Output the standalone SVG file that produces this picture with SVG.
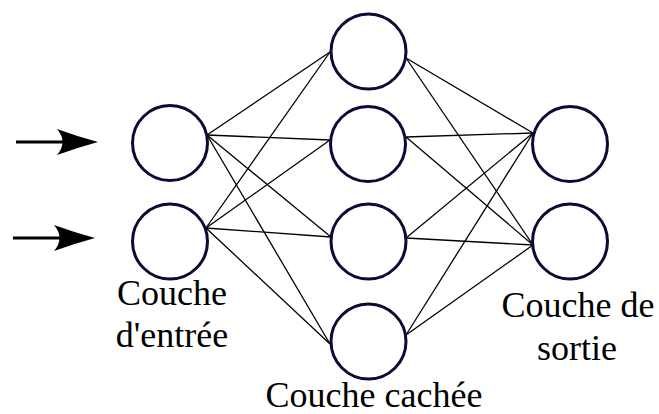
<svg xmlns="http://www.w3.org/2000/svg" xmlns:xlink="http://www.w3.org/1999/xlink" width="659" height="414" viewBox="0 0 659 414">
<style>
.node{fill:#fff;stroke:#0b0b35;stroke-width:3}
.edge{stroke:#000;stroke-width:1.3;fill:none}
.arrow{stroke:#000;stroke-width:3;fill:none}
.label{font-family:'Liberation Serif','DejaVu Serif',serif;font-size:36px;fill:#000;text-anchor:middle}
</style>
<defs>
<path id="head" d="M0,0 Q-22,-6 -41,-13 Q-30,0 -41,13 Q-22,6 0,0 Z" fill="#000"/>
</defs>
<rect width="659" height="414" fill="#fff"/>
<g id="connectors">
<line class="arrow" x1="16" y1="142" x2="80" y2="142"/>
<use xlink:href="#head" transform="translate(98,142)"/>
<line class="arrow" x1="13" y1="238" x2="78" y2="238"/>
<use xlink:href="#head" transform="translate(95,238)"/>
<line class="edge" x1="207" y1="135" x2="330" y2="52"/>
<line class="edge" x1="207" y1="135" x2="330" y2="140"/>
<line class="edge" x1="207" y1="135" x2="331" y2="237"/>
<line class="edge" x1="207" y1="135" x2="330" y2="344"/>
<line class="edge" x1="206" y1="228" x2="330" y2="52"/>
<line class="edge" x1="206" y1="228" x2="330" y2="140"/>
<line class="edge" x1="206" y1="228" x2="331" y2="237"/>
<line class="edge" x1="206" y1="228" x2="330" y2="344"/>
<line class="edge" x1="406" y1="58" x2="533" y2="133"/>
<line class="edge" x1="406" y1="137" x2="533" y2="133"/>
<line class="edge" x1="406" y1="238" x2="533" y2="133"/>
<line class="edge" x1="406" y1="335" x2="533" y2="133"/>
<line class="edge" x1="406" y1="58" x2="533" y2="245"/>
<line class="edge" x1="406" y1="137" x2="533" y2="245"/>
<line class="edge" x1="406" y1="238" x2="533" y2="245"/>
<line class="edge" x1="406" y1="335" x2="533" y2="245"/>
</g>
<g id="in1"><circle class="node" cx="170" cy="143" r="37.5"/></g>
<g id="in2"><circle class="node" cx="170" cy="241.5" r="37.5"/></g>
<g id="h1"><circle class="node" cx="368.5" cy="51.5" r="37.5"/></g>
<g id="h2"><circle class="node" cx="368" cy="144" r="37.5"/></g>
<g id="h3"><circle class="node" cx="368.5" cy="241.5" r="37.5"/></g>
<g id="h4"><circle class="node" cx="368.5" cy="341.5" r="37.5"/></g>
<g id="out1"><circle class="node" cx="570" cy="144" r="37.5"/></g>
<g id="out2"><circle class="node" cx="570" cy="241.5" r="37.5"/></g>
<g id="label-input">
<text class="label" x="172" y="305">Couche</text>
<text class="label" x="172" y="347">d'entrée</text>
</g>
<g id="label-hidden">
<text class="label" x="374" y="407">Couche cachée</text>
</g>
<g id="label-output">
<text class="label" x="578" y="317">Couche de</text>
<text class="label" x="577" y="360">sortie</text>
</g>
</svg>
